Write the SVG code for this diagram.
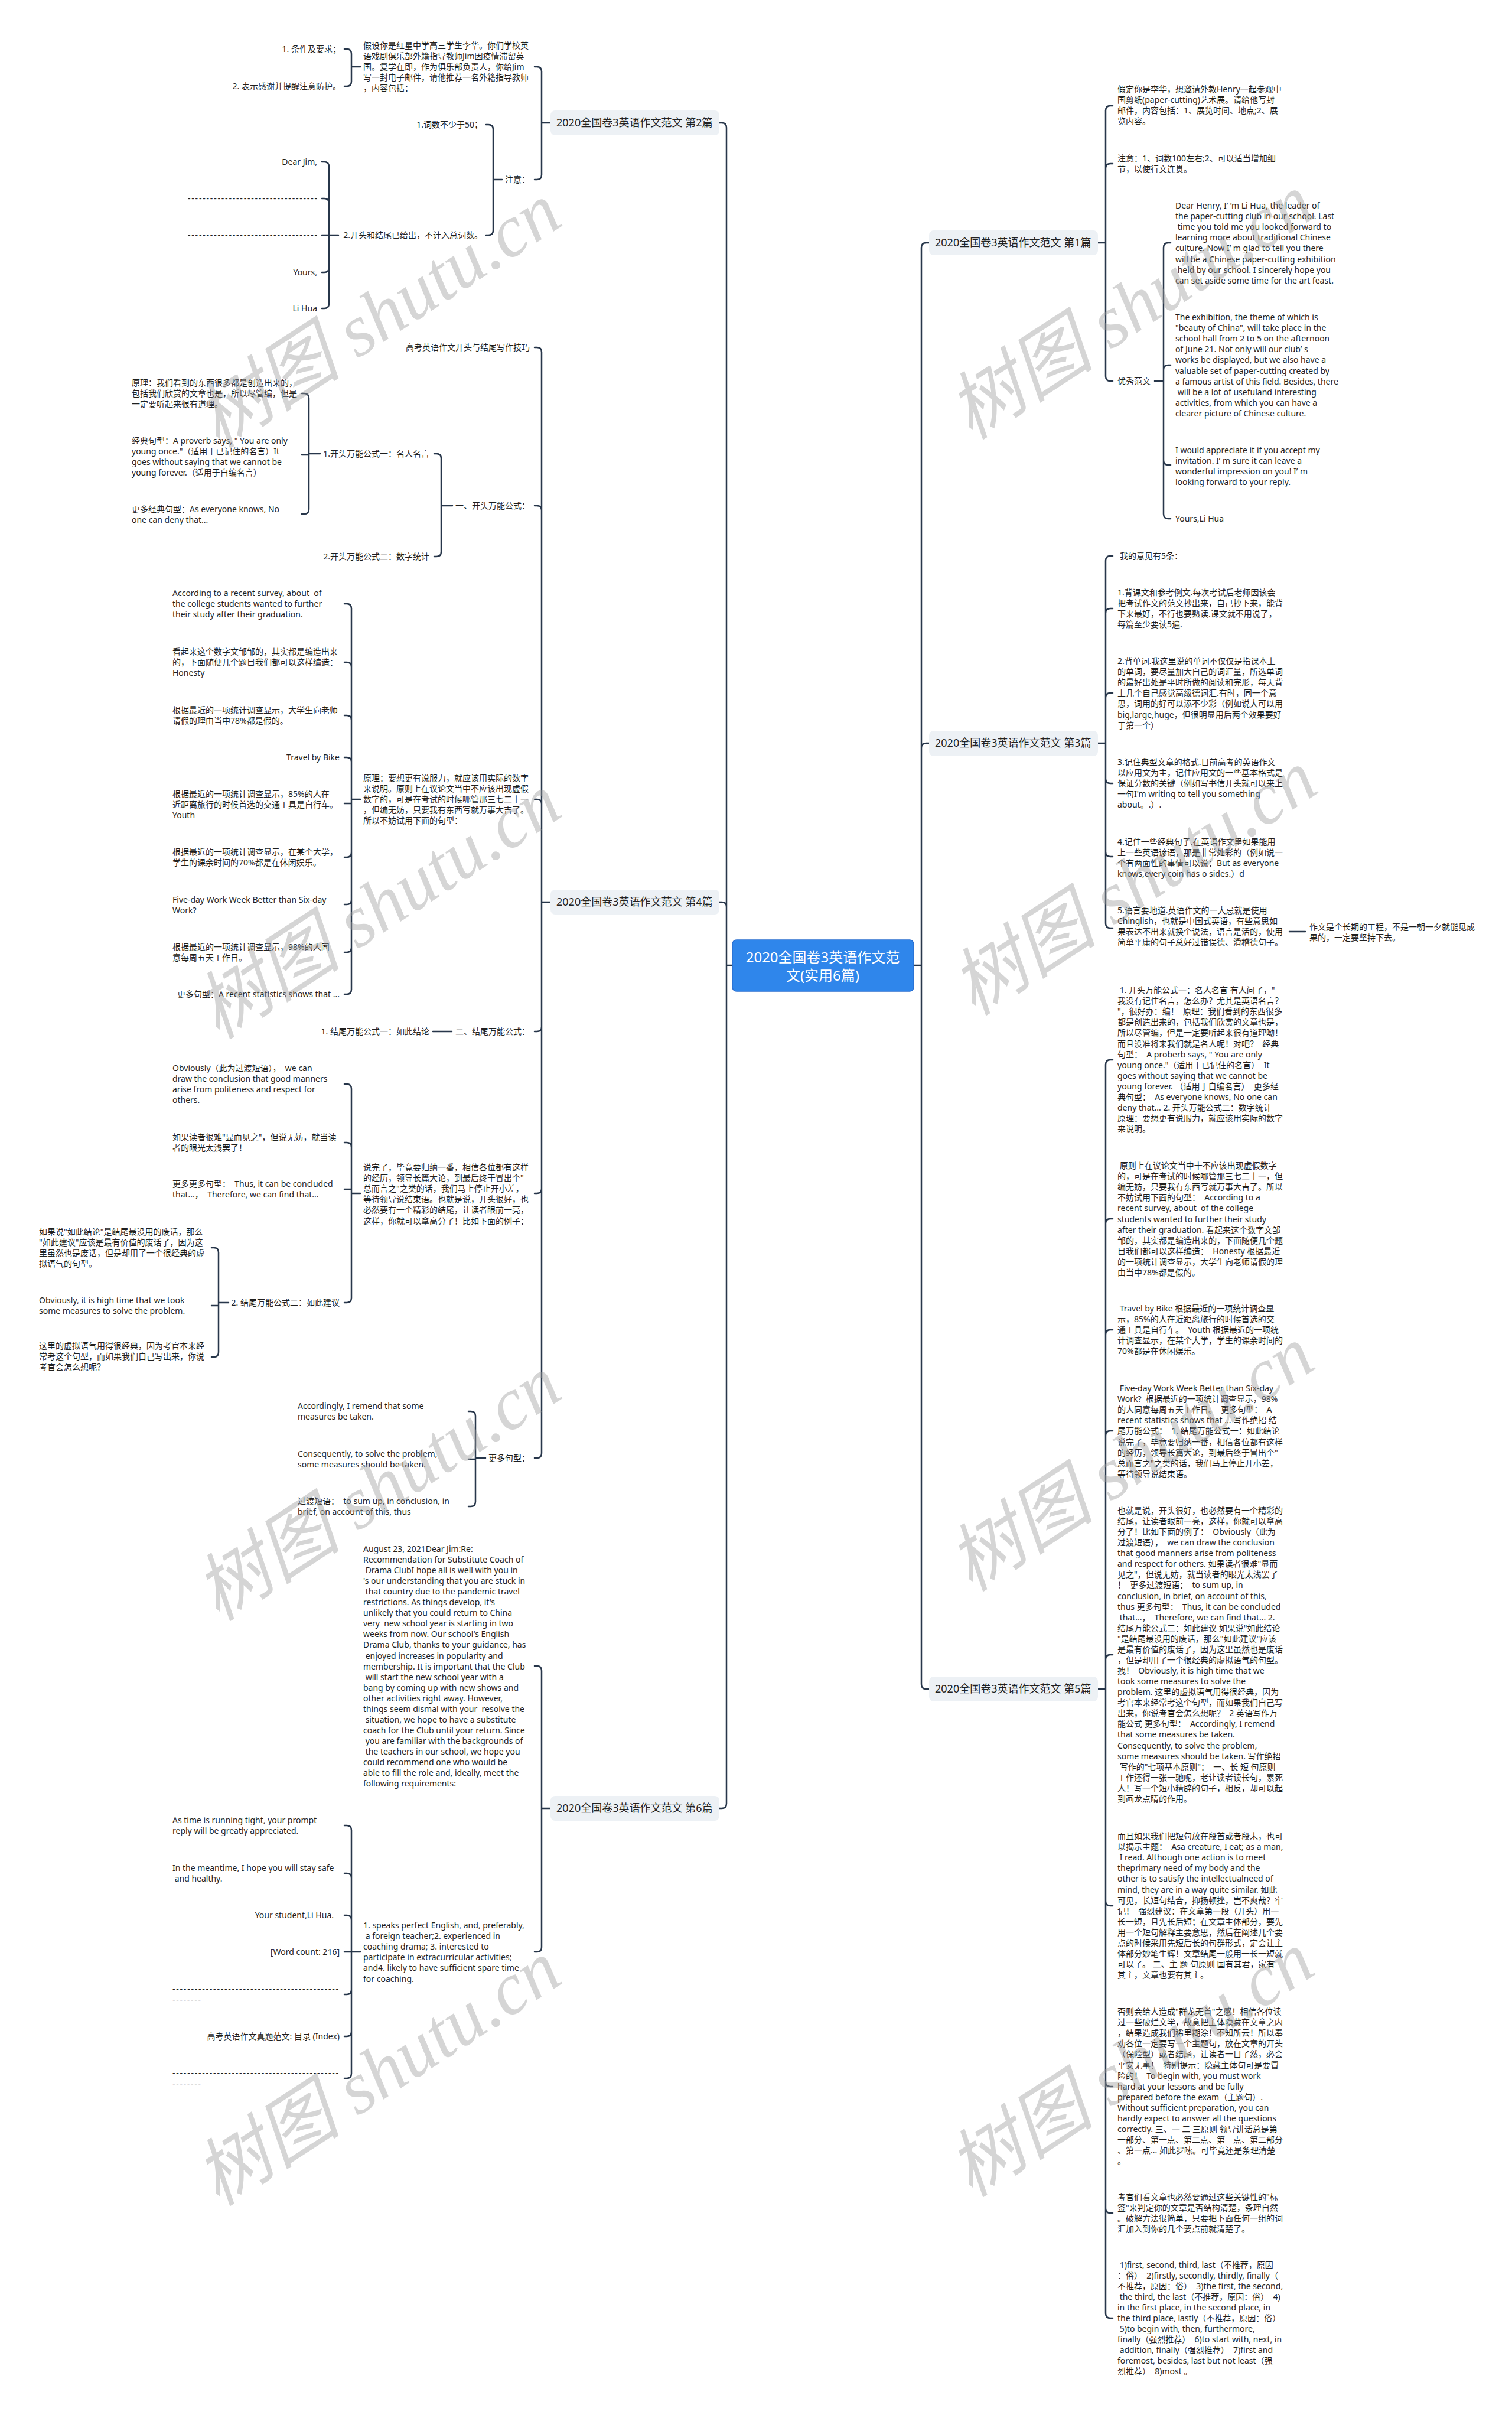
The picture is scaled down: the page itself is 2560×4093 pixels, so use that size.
<svg xmlns="http://www.w3.org/2000/svg" width="2560" height="4093" viewBox="0 0 2560 4093">
<style>
.t{font-family:"Noto Sans","Noto Sans CJK SC",sans-serif;font-size:14px;fill:#1f1f1f;white-space:pre}
.e{text-anchor:end}
.h{font-family:"Noto Sans","Noto Sans CJK SC",sans-serif;font-size:18px;fill:#222;white-space:pre}
.box{fill:#edf1f5}
.root{fill:#2f86eb;stroke:#2a6fd0;stroke-width:1.5}
.rt{font-family:"Noto Sans","Noto Sans CJK SC",sans-serif;font-size:24px;fill:#fff;text-anchor:middle}
.c{fill:none;stroke:#27364a;stroke-width:2.5;stroke-linecap:round;stroke-linejoin:round}
.wm{font-family:"Liberation Serif","Noto Sans CJK SC",serif;font-style:italic;font-size:125px;fill:#9a9a9a;fill-opacity:0.42;text-anchor:middle}
</style>
<rect width="2560" height="4093" fill="#fff"/>
<g id="connectors" class="c">
<path d="M1240,1634H1230M1230,1634V216Q1230,208 1222,208H1218M1230,1634V1535Q1230,1527 1222,1527H1218M1230,1634V3053Q1230,3061 1222,3061H1218"/>
<path d="M1547,1634H1560M1560,1634V419Q1560,411 1568,411H1573M1560,1634V1266Q1560,1258 1568,1258H1573M1560,1634V2851Q1560,2859 1568,2859H1573"/>
<path d="M932,208H917M917,208V121Q917,113 909,113H905M917,208V296Q917,304 909,304H905"/>
<path d="M610,113H595M595,113V91Q595,83 587,83H583M595,113V138Q595,146 587,146H583"/>
<path d="M850,304H835M835,304V219Q835,211 827,211H823M835,304V390Q835,398 827,398H823"/>
<path d="M573,398H557M557,398V282Q557,274 549,274H545M557,398V344Q557,336 549,336H545M557,398H545M557,398V453Q557,461 549,461H545M557,398V514Q557,522 549,522H545"/>
<path d="M932,1527H917M917,1527V596Q917,588 909,588H905M917,1527V864Q917,856 909,856H905M917,1527V1361Q917,1353 909,1353H905M917,1527V1738Q917,1746 909,1746H905M917,1527V2012Q917,2020 909,2020H905M917,1527V2460Q917,2468 909,2468H905"/>
<path d="M766,856H747M747,856V776Q747,768 739,768H735M747,856V934Q747,942 739,942H735"/>
<path d="M542,768H523M523,768V674Q523,666 515,666H511M523,770H511M523,768V862Q523,870 515,870H511"/>
<path d="M610,1353H595M595,1353V1030Q595,1022 587,1022H583M595,1353V1129Q595,1121 587,1121H583M595,1353V1219Q595,1211 587,1211H583M595,1353V1290Q595,1282 587,1282H583M595,1360H583M595,1353V1443Q595,1451 587,1451H583M595,1353V1523Q595,1531 587,1531H583M595,1353V1604Q595,1612 587,1612H583M595,1353V1675Q595,1683 587,1683H583"/>
<path d="M733,1746H765"/>
<path d="M610,2020H595M595,2020V1843Q595,1835 587,1835H583M595,2020V1942Q595,1934 587,1934H583M595,2013H583M595,2020V2197Q595,2205 587,2205H583"/>
<path d="M387,2205H370M370,2205V2120Q370,2112 362,2112H358M370,2210H358M370,2205V2289Q370,2297 362,2297H358"/>
<path d="M822,2468H805M805,2468V2397Q805,2389 797,2389H793M805,2470H793M805,2468V2542Q805,2550 797,2550H793"/>
<path d="M932,3061H917M917,3061V2828Q917,2820 909,2820H905M917,3061V3296Q917,3304 909,3304H905"/>
<path d="M610,3304H595M595,3304V3098Q595,3090 587,3090H583M595,3304V3179Q595,3171 587,3171H583M595,3304V3250Q595,3242 587,3242H583M595,3304H583M595,3304V3368Q595,3376 587,3376H583M595,3304V3439Q595,3447 587,3447H583M595,3304V3510Q595,3518 587,3518H583"/>
<path d="M1859,411H1872M1872,411V187Q1872,179 1880,179H1884M1872,411V285Q1872,277 1880,277H1884M1872,411V637Q1872,645 1880,645H1884"/>
<path d="M1955,645H1970M1970,645V419Q1970,411 1978,411H1982M1970,645V626Q1970,618 1978,618H1982M1970,645V779Q1970,787 1978,787H1982M1970,645V870Q1970,878 1978,878H1982"/>
<path d="M1859,1258H1872M1872,1258V949Q1872,941 1880,941H1884M1872,1258V1038Q1872,1030 1880,1030H1884M1872,1258V1181Q1872,1173 1880,1173H1884M1872,1258V1318Q1872,1326 1880,1326H1884M1872,1258V1442Q1872,1450 1880,1450H1884M1872,1258V1563Q1872,1571 1880,1571H1884"/>
<path d="M2183,1577H2210"/>
<path d="M1859,2859H1872M1872,2859V1802Q1872,1794 1880,1794H1884M1872,2859V2071Q1872,2063 1880,2063H1884M1872,2859V2259Q1872,2251 1880,2251H1884M1872,2859V2430Q1872,2422 1880,2422H1884M1872,2859V2809Q1872,2801 1880,2801H1884M1872,2859V3218Q1872,3226 1880,3226H1884M1872,2859V3524Q1872,3532 1880,3532H1884M1872,2859V3738Q1872,3746 1880,3746H1884M1872,2859V3916Q1872,3924 1880,3924H1884"/>
</g>

<g id="root">
<rect class="root" x="1240" y="1591" width="307" height="87" rx="7"/>
<text class="rt" x="1393" y="1629">2020全国卷3英语作文范</text>
<text class="rt" x="1393" y="1660">文(实用6篇)</text>
</g>

<g id="n2">
<rect class="box" x="932" y="187" width="286" height="42" rx="8"/>
<text class="h" x="942" y="214">2020全国卷3英语作文范文 第2篇</text>
</g>
<g id="n2-a">
<text class="t" x="615" y="82"><tspan x="615">假设你是红星中学高三学生李华。你们学校英</tspan><tspan x="615" dy="18.1">语戏剧俱乐部外籍指导教师Jim因疫情滞留英</tspan><tspan x="615" dy="18.1">国。复学在即，作为俱乐部负责人，你给Jim</tspan><tspan x="615" dy="18.1">写一封电子邮件，请他推荐一名外籍指导教师</tspan><tspan x="615" dy="18.1">，内容包括：</tspan></text>
</g>
<g id="n2-a1"><text class="t e" x="577" y="88">1. 条件及要求；</text></g>
<g id="n2-a2"><text class="t e" x="577" y="151">2. 表示感谢并提醒注意防护。</text></g>
<g id="n2-b"><text class="t e" x="897" y="309">注意：</text></g>
<g id="n2-b1"><text class="t e" x="817" y="216">1.词数不少于50；</text></g>
<g id="n2-b2"><text class="t e" x="817" y="403">2.开头和结尾已给出，不计入总词数。</text></g>
<g id="n2-b2a"><text class="t e" x="537" y="279">Dear Jim,</text></g>
<g id="n2-b2b"><text class="t e" x="537" y="341" textLength="219" lengthAdjust="spacing">-----------------------------------</text></g>
<g id="n2-b2c"><text class="t e" x="537" y="403" textLength="219" lengthAdjust="spacing">-----------------------------------</text></g>
<g id="n2-b2d"><text class="t e" x="537" y="466">Yours,</text></g>
<g id="n2-b2e"><text class="t e" x="537" y="527">Li Hua</text></g>

<g id="n4">
<rect class="box" x="932" y="1506" width="286" height="42" rx="8"/>
<text class="h" x="942" y="1533">2020全国卷3英语作文范文 第4篇</text>
</g>
<g id="n4-a"><text class="t e" x="897" y="593">高考英语作文开头与结尾写作技巧</text></g>
<g id="n4-b"><text class="t e" x="897" y="861">一、开头万能公式：</text></g>
<g id="n4-b1"><text class="t e" x="727" y="773">1.开头万能公式一：名人名言</text></g>
<g id="n4-b2"><text class="t e" x="727" y="947">2.开头万能公式二：数字统计</text></g>
<g id="n4-b1a"><text class="t" x="223" y="653"><tspan x="223">原理：我们看到的东西很多都是创造出来的，</tspan><tspan x="223" dy="18.1">包括我们欣赏的文章也是，所以尽管编，但是</tspan><tspan x="223" dy="18.1">一定要听起来很有道理。</tspan></text></g>
<g id="n4-b1b"><text class="t" x="223" y="751"><tspan x="223">经典句型：A proverb says, " You are only</tspan><tspan x="223" dy="18.1">young once."（适用于已记住的名言）It</tspan><tspan x="223" dy="18.1">goes without saying that we cannot be</tspan><tspan x="223" dy="18.1">young forever.（适用于自编名言）</tspan></text></g>
<g id="n4-b1c"><text class="t" x="223" y="867"><tspan x="223">更多经典句型：As everyone knows, No</tspan><tspan x="223" dy="18.1">one can deny that...</tspan></text></g>
<g id="n4-c"><text class="t" x="615" y="1322"><tspan x="615">原理：要想更有说服力，就应该用实际的数字</tspan><tspan x="615" dy="18.1">来说明。原则上在议论文当中不应该出现虚假</tspan><tspan x="615" dy="18.1">数字的，可是在考试的时候哪管那三七二十一</tspan><tspan x="615" dy="18.1">，但编无妨，只要我有东西写就万事大吉了。</tspan><tspan x="615" dy="18.1">所以不妨试用下面的句型：</tspan></text></g>
<g id="n4-c1"><text class="t" x="292" y="1009"><tspan x="292">According to a recent survey, about  of</tspan><tspan x="292" dy="18.1">the college students wanted to further</tspan><tspan x="292" dy="18.1">their study after their graduation.</tspan></text></g>
<g id="n4-c2"><text class="t" x="292" y="1108"><tspan x="292">看起来这个数字文邹邹的，其实都是编造出来</tspan><tspan x="292" dy="18.1">的，下面随便几个题目我们都可以这样编造：</tspan><tspan x="292" dy="18.1">Honesty</tspan></text></g>
<g id="n4-c3"><text class="t" x="292" y="1207"><tspan x="292">根据最近的一项统计调查显示，大学生向老师</tspan><tspan x="292" dy="18.1">请假的理由当中78%都是假的。</tspan></text></g>
<g id="n4-c4"><text class="t e" x="575" y="1287">Travel by Bike</text></g>
<g id="n4-c5"><text class="t" x="292" y="1349"><tspan x="292">根据最近的一项统计调查显示，85%的人在</tspan><tspan x="292" dy="18.1">近距离旅行的时候首选的交通工具是自行车。</tspan><tspan x="292" dy="18.1">Youth</tspan></text></g>
<g id="n4-c6"><text class="t" x="292" y="1447"><tspan x="292">根据最近的一项统计调查显示，在某个大学，</tspan><tspan x="292" dy="18.1">学生的课余时间的70%都是在休闲娱乐。</tspan></text></g>
<g id="n4-c7"><text class="t" x="292" y="1528"><tspan x="292">Five-day Work Week Better than Six-day</tspan><tspan x="292" dy="18.1">Work?</tspan></text></g>
<g id="n4-c8"><text class="t" x="292" y="1608"><tspan x="292">根据最近的一项统计调查显示，98%的人同</tspan><tspan x="292" dy="18.1">意每周五天工作日。</tspan></text></g>
<g id="n4-c9"><text class="t e" x="575" y="1688">更多句型：A recent statistics shows that ...</text></g>
<g id="n4-d"><text class="t e" x="897" y="1751">二、结尾万能公式：</text></g>
<g id="n4-d1"><text class="t e" x="727" y="1751">1. 结尾万能公式一：如此结论</text></g>
<g id="n4-e"><text class="t" x="615" y="1981"><tspan x="615">说完了，毕竟要归纳一番，相信各位都有这样</tspan><tspan x="615" dy="18.1">的经历，领导长篇大论，到最后终于冒出个"</tspan><tspan x="615" dy="18.1">总而言之"之类的话，我们马上停止开小差，</tspan><tspan x="615" dy="18.1">等待领导说结束语。也就是说，开头很好，也</tspan><tspan x="615" dy="18.1">必然要有一个精彩的结尾，让读者眼前一亮，</tspan><tspan x="615" dy="18.1">这样，你就可以拿高分了！比如下面的例子：</tspan></text></g>
<g id="n4-e1"><text class="t" x="292" y="1813"><tspan x="292">Obviously（此为过渡短语），  we can</tspan><tspan x="292" dy="18.1">draw the conclusion that good manners</tspan><tspan x="292" dy="18.1">arise from politeness and respect for</tspan><tspan x="292" dy="18.1">others.</tspan></text></g>
<g id="n4-e2"><text class="t" x="292" y="1930"><tspan x="292">如果读者很难"显而见之"，但说无妨，就当读</tspan><tspan x="292" dy="18.1">者的眼光太浅罢了！</tspan></text></g>
<g id="n4-e3"><text class="t" x="292" y="2009"><tspan x="292">更多更多句型：  Thus, it can be concluded</tspan><tspan x="292" dy="18.1">that...，  Therefore, we can find that...</tspan></text></g>
<g id="n4-e4"><text class="t e" x="575" y="2210">2. 结尾万能公式二：如此建议</text></g>
<g id="n4-e4a"><text class="t" x="66" y="2090"><tspan x="66">如果说"如此结论"是结尾最没用的废话，那么</tspan><tspan x="66" dy="18.1">"如此建议"应该是最有价值的废话了，因为这</tspan><tspan x="66" dy="18.1">里虽然也是废话，但是却用了一个很经典的虚</tspan><tspan x="66" dy="18.1">拟语气的句型。</tspan></text></g>
<g id="n4-e4b"><text class="t" x="66" y="2206"><tspan x="66">Obviously, it is high time that we took</tspan><tspan x="66" dy="18.1">some measures to solve the problem.</tspan></text></g>
<g id="n4-e4c"><text class="t" x="66" y="2283"><tspan x="66">这里的虚拟语气用得很经典，因为考官本来经</tspan><tspan x="66" dy="18.1">常考这个句型，而如果我们自己写出来，你说</tspan><tspan x="66" dy="18.1">考官会怎么想呢？</tspan></text></g>
<g id="n4-f"><text class="t e" x="897" y="2473">更多句型：</text></g>
<g id="n4-f1"><text class="t" x="504" y="2385"><tspan x="504">Accordingly, I remend that some</tspan><tspan x="504" dy="18.1">measures be taken.</tspan></text></g>
<g id="n4-f2"><text class="t" x="504" y="2466"><tspan x="504">Consequently, to solve the problem,</tspan><tspan x="504" dy="18.1">some measures should be taken.</tspan></text></g>
<g id="n4-f3"><text class="t" x="504" y="2546"><tspan x="504">过渡短语：  to sum up, in conclusion, in</tspan><tspan x="504" dy="18.1">brief, on account of this, thus</tspan></text></g>

<g id="n6">
<rect class="box" x="932" y="3040" width="286" height="42" rx="8"/>
<text class="h" x="942" y="3067">2020全国卷3英语作文范文 第6篇</text>
</g>
<g id="n6-a"><text class="t" x="615" y="2627"><tspan x="615">August 23, 2021Dear Jim:Re:</tspan><tspan x="615" dy="18.05">Recommendation for Substitute Coach of</tspan><tspan x="615" dy="18.05"> Drama ClubI hope all is well with you in</tspan><tspan x="615" dy="18.05">'s our understanding that you are stuck in</tspan><tspan x="615" dy="18.05"> that country due to the pandemic travel</tspan><tspan x="615" dy="18.05">restrictions. As things develop, it's</tspan><tspan x="615" dy="18.05">unlikely that you could return to China</tspan><tspan x="615" dy="18.05">very  new school year is starting in two</tspan><tspan x="615" dy="18.05">weeks from now. Our school's English</tspan><tspan x="615" dy="18.05">Drama Club, thanks to your guidance, has</tspan><tspan x="615" dy="18.05"> enjoyed increases in popularity and</tspan><tspan x="615" dy="18.05">membership. It is important that the Club</tspan><tspan x="615" dy="18.05"> will start the new school year with a</tspan><tspan x="615" dy="18.05">bang by coming up with new shows and</tspan><tspan x="615" dy="18.05">other activities right away. However,</tspan><tspan x="615" dy="18.05">things seem dismal with your  resolve the</tspan><tspan x="615" dy="18.05"> situation, we hope to have a substitute</tspan><tspan x="615" dy="18.05">coach for the Club until your return. Since</tspan><tspan x="615" dy="18.05"> you are familiar with the backgrounds of</tspan><tspan x="615" dy="18.05"> the teachers in our school, we hope you</tspan><tspan x="615" dy="18.05">could recommend one who would be</tspan><tspan x="615" dy="18.05">able to fill the role and, ideally, meet the</tspan><tspan x="615" dy="18.05">following requirements:</tspan></text></g>
<g id="n6-b"><text class="t" x="615" y="3264"><tspan x="615">1. speaks perfect English, and, preferably,</tspan><tspan x="615" dy="18.1"> a foreign teacher;2. experienced in</tspan><tspan x="615" dy="18.1">coaching drama; 3. interested to</tspan><tspan x="615" dy="18.1">participate in extracurricular activities;</tspan><tspan x="615" dy="18.1">and4. likely to have sufficient spare time</tspan><tspan x="615" dy="18.1">for coaching.</tspan></text></g>
<g id="n6-b1"><text class="t" x="292" y="3086"><tspan x="292">As time is running tight, your prompt</tspan><tspan x="292" dy="18.1">reply will be greatly appreciated.</tspan></text></g>
<g id="n6-b2"><text class="t" x="292" y="3167"><tspan x="292">In the meantime, I hope you will stay safe</tspan><tspan x="292" dy="18.1"> and healthy.</tspan></text></g>
<g id="n6-b3"><text class="t e" x="565" y="3247">Your student,Li Hua.</text></g>
<g id="n6-b4"><text class="t e" x="575" y="3309">[Word count: 216]</text></g>
<g id="n6-b5"><text class="t" x="292" y="3372"><tspan x="292" textLength="281" lengthAdjust="spacing">---------------------------------------------</tspan><tspan x="292" dy="18.1" textLength="48" lengthAdjust="spacing">--------</tspan></text></g>
<g id="n6-b6"><text class="t e" x="575" y="3452">高考英语作文真题范文: 目录 (Index)</text></g>
<g id="n6-b7"><text class="t" x="292" y="3514"><tspan x="292" textLength="281" lengthAdjust="spacing">---------------------------------------------</tspan><tspan x="292" dy="18.1" textLength="48" lengthAdjust="spacing">--------</tspan></text></g>

<g id="n1">
<rect class="box" x="1573" y="390" width="286" height="42" rx="8"/>
<text class="h" x="1583" y="417">2020全国卷3英语作文范文 第1篇</text>
</g>
<g id="n1-a"><text class="t" x="1892" y="156"><tspan x="1892">假定你是李华，想邀请外教Henry一起参观中</tspan><tspan x="1892" dy="18.1">国剪纸(paper-cutting)艺术展。请给他写封</tspan><tspan x="1892" dy="18.1">邮件，内容包括：1、展览时间、地点;2、展</tspan><tspan x="1892" dy="18.1">览内容。</tspan></text></g>
<g id="n1-b"><text class="t" x="1892" y="273"><tspan x="1892">注意：1、词数100左右;2、可以适当增加细</tspan><tspan x="1892" dy="18.1">节，以使行文连贯。</tspan></text></g>
<g id="n1-c"><text class="t" x="1892" y="650">优秀范文</text></g>
<g id="n1-c1"><text class="t" x="1990" y="353"><tspan x="1990">Dear Henry, I’ ’m Li Hua, the leader of</tspan><tspan x="1990" dy="18.1">the paper-cutting club in our school. Last</tspan><tspan x="1990" dy="18.1"> time you told me you looked forward to</tspan><tspan x="1990" dy="18.1">learning more about traditional Chinese</tspan><tspan x="1990" dy="18.1">culture. Now I’ m glad to tell you there</tspan><tspan x="1990" dy="18.1">will be a Chinese paper-cutting exhibition</tspan><tspan x="1990" dy="18.1"> held by our school. I sincerely hope you</tspan><tspan x="1990" dy="18.1">can set aside some time for the art feast.</tspan></text></g>
<g id="n1-c2"><text class="t" x="1990" y="542"><tspan x="1990">The exhibition, the theme of which is</tspan><tspan x="1990" dy="18.1">"beauty of China", will take place in the</tspan><tspan x="1990" dy="18.1">school hall from 2 to 5 on the afternoon</tspan><tspan x="1990" dy="18.1">of June 21. Not only will our club’ s</tspan><tspan x="1990" dy="18.1">works be displayed, but we also have a</tspan><tspan x="1990" dy="18.1">valuable set of paper-cutting created by</tspan><tspan x="1990" dy="18.1">a famous artist of this field. Besides, there</tspan><tspan x="1990" dy="18.1"> will be a lot of usefuland interesting</tspan><tspan x="1990" dy="18.1">activities, from which you can have a</tspan><tspan x="1990" dy="18.1">clearer picture of Chinese culture.</tspan></text></g>
<g id="n1-c3"><text class="t" x="1990" y="767"><tspan x="1990">I would appreciate it if you accept my</tspan><tspan x="1990" dy="18.1">invitation. I’ m sure it can leave a</tspan><tspan x="1990" dy="18.1">wonderful impression on you! I’ m</tspan><tspan x="1990" dy="18.1">looking forward to your reply.</tspan></text></g>
<g id="n1-c4"><text class="t" x="1990" y="883">Yours,Li Hua</text></g>

<g id="n3">
<rect class="box" x="1573" y="1237" width="286" height="43" rx="8"/>
<text class="h" x="1583" y="1264">2020全国卷3英语作文范文 第3篇</text>
</g>
<g id="n3-a"><text class="t" x="1896" y="946">我的意见有5条：</text></g>
<g id="n3-b"><text class="t" x="1892" y="1008"><tspan x="1892">1.背课文和参考例文.每次考试后老师因该会</tspan><tspan x="1892" dy="18.1">把考试作文的范文抄出来，自己抄下来，能背</tspan><tspan x="1892" dy="18.1">下来最好，不行也要熟读.课文就不用说了，</tspan><tspan x="1892" dy="18.1">每篇至少要读5遍.</tspan></text></g>
<g id="n3-c"><text class="t" x="1892" y="1124"><tspan x="1892">2.背单词.我这里说的单词不仅仅是指课本上</tspan><tspan x="1892" dy="18.1">的单词，要尽量加大自己的词汇量，所选单词</tspan><tspan x="1892" dy="18.1">的最好出处是平时所做的阅读和完形，每天背</tspan><tspan x="1892" dy="18.1">上几个自己感觉高级德词汇.有时，同一个意</tspan><tspan x="1892" dy="18.1">思，词用的好可以添不少彩（例如说大可以用</tspan><tspan x="1892" dy="18.1">big,large,huge，但很明显用后两个效果要好</tspan><tspan x="1892" dy="18.1">于第一个）</tspan></text></g>
<g id="n3-d"><text class="t" x="1892" y="1295"><tspan x="1892">3.记住典型文章的格式.目前高考的英语作文</tspan><tspan x="1892" dy="18.1">以应用文为主，记住应用文的一些基本格式是</tspan><tspan x="1892" dy="18.1">保证分数的关键（例如写书信开头就可以来上</tspan><tspan x="1892" dy="18.1">一句I'm writing to tell you something</tspan><tspan x="1892" dy="18.1">about。.）.</tspan></text></g>
<g id="n3-e"><text class="t" x="1892" y="1430"><tspan x="1892">4.记住一些经典句子.在英语作文里如果能用</tspan><tspan x="1892" dy="18.1">上一些英语谚语，那是非常处彩的（例如说一</tspan><tspan x="1892" dy="18.1">个有两面性的事情可以说：But as everyone</tspan><tspan x="1892" dy="18.1">knows,every coin has o sides.）d</tspan></text></g>
<g id="n3-f"><text class="t" x="1892" y="1546"><tspan x="1892">5.语言要地道.英语作文的一大忌就是使用</tspan><tspan x="1892" dy="18.1">Chinglish，也就是中国式英语，有些意思如</tspan><tspan x="1892" dy="18.1">果表达不出来就换个说法，语言是活的，使用</tspan><tspan x="1892" dy="18.1">简单平庸的句子总好过错误德、滑稽德句子。</tspan></text></g>
<g id="n3-f1"><text class="t" x="2217" y="1574"><tspan x="2217">作文是个长期的工程，不是一朝一夕就能见成</tspan><tspan x="2217" dy="18.1">果的，一定要坚持下去。</tspan></text></g>

<g id="n5">
<rect class="box" x="1573" y="2838" width="286" height="42" rx="8"/>
<text class="h" x="1583" y="2865">2020全国卷3英语作文范文 第5篇</text>
</g>
<g id="n5-a"><text class="t" x="1892" y="1681"><tspan x="1892"> 1. 开头万能公式一：名人名言 有人问了，"</tspan><tspan x="1892" dy="18.1">我没有记住名言，怎么办？尤其是英语名言？</tspan><tspan x="1892" dy="18.1">"，很好办：编！  原理：我们看到的东西很多</tspan><tspan x="1892" dy="18.1">都是创造出来的，包括我们欣赏的文章也是，</tspan><tspan x="1892" dy="18.1">所以尽管编，但是一定要听起来很有道理呦！</tspan><tspan x="1892" dy="18.1">而且没准将来我们就是名人呢！对吧？  经典</tspan><tspan x="1892" dy="18.1">句型：  A proberb says, " You are only</tspan><tspan x="1892" dy="18.1">young once."（适用于已记住的名言）  It</tspan><tspan x="1892" dy="18.1">goes without saying that we cannot be</tspan><tspan x="1892" dy="18.1">young forever. （适用于自编名言）  更多经</tspan><tspan x="1892" dy="18.1">典句型：  As everyone knows, No one can</tspan><tspan x="1892" dy="18.1">deny that... 2. 开头万能公式二：数字统计</tspan><tspan x="1892" dy="18.1">原理：要想更有说服力，就应该用实际的数字</tspan><tspan x="1892" dy="18.1">来说明。</tspan></text></g>
<g id="n5-b"><text class="t" x="1892" y="1978"><tspan x="1892"> 原则上在议论文当中十不应该出现虚假数字</tspan><tspan x="1892" dy="18.1">的，可是在考试的时候哪管那三七二十一，但</tspan><tspan x="1892" dy="18.1">编无妨，只要我有东西写就万事大吉了。所以</tspan><tspan x="1892" dy="18.1">不妨试用下面的句型：  According to a</tspan><tspan x="1892" dy="18.1">recent survey, about  of the college</tspan><tspan x="1892" dy="18.1">students wanted to further their study</tspan><tspan x="1892" dy="18.1">after their graduation. 看起来这个数字文邹</tspan><tspan x="1892" dy="18.1">邹的，其实都是编造出来的，下面随便几个题</tspan><tspan x="1892" dy="18.1">目我们都可以这样编造：  Honesty 根据最近</tspan><tspan x="1892" dy="18.1">的一项统计调查显示，大学生向老师请假的理</tspan><tspan x="1892" dy="18.1">由当中78%都是假的。</tspan></text></g>
<g id="n5-c"><text class="t" x="1892" y="2220"><tspan x="1892"> Travel by Bike 根据最近的一项统计调查显</tspan><tspan x="1892" dy="18.1">示，85%的人在近距离旅行的时候首选的交</tspan><tspan x="1892" dy="18.1">通工具是自行车。  Youth 根据最近的一项统</tspan><tspan x="1892" dy="18.1">计调查显示，在某个大学，学生的课余时间的</tspan><tspan x="1892" dy="18.1">70%都是在休闲娱乐。</tspan></text></g>
<g id="n5-d"><text class="t" x="1892" y="2355"><tspan x="1892"> Five-day Work Week Better than Six-day</tspan><tspan x="1892" dy="18.1">Work?  根据最近的一项统计调查显示，98%</tspan><tspan x="1892" dy="18.1">的人同意每周五天工作日。  更多句型：  A</tspan><tspan x="1892" dy="18.1">recent statistics shows that ... 写作绝招 结</tspan><tspan x="1892" dy="18.1">尾万能公式：  1. 结尾万能公式一：如此结论</tspan><tspan x="1892" dy="18.1">说完了，毕竟要归纳一番，相信各位都有这样</tspan><tspan x="1892" dy="18.1">的经历，领导长篇大论，到最后终于冒出个"</tspan><tspan x="1892" dy="18.1">总而言之"之类的话，我们马上停止开小差，</tspan><tspan x="1892" dy="18.1">等待领导说结束语。</tspan></text></g>
<g id="n5-e"><text class="t" x="1892" y="2562"><tspan x="1892">也就是说，开头很好，也必然要有一个精彩的</tspan><tspan x="1892" dy="18.07">结尾，让读者眼前一亮，这样，你就可以拿高</tspan><tspan x="1892" dy="18.07">分了！比如下面的例子：  Obviously（此为</tspan><tspan x="1892" dy="18.07">过渡短语），  we can draw the conclusion</tspan><tspan x="1892" dy="18.07">that good manners arise from politeness</tspan><tspan x="1892" dy="18.07">and respect for others. 如果读者很难"显而</tspan><tspan x="1892" dy="18.07">见之"，但说无妨，就当读者的眼光太浅罢了</tspan><tspan x="1892" dy="18.07">！  更多过渡短语：  to sum up, in</tspan><tspan x="1892" dy="18.07">conclusion, in brief, on account of this,</tspan><tspan x="1892" dy="18.07">thus 更多句型：  Thus, it can be concluded</tspan><tspan x="1892" dy="18.07"> that...，  Therefore, we can find that... 2.</tspan><tspan x="1892" dy="18.07">结尾万能公式二：如此建议 如果说"如此结论</tspan><tspan x="1892" dy="18.07">"是结尾最没用的废话，那么"如此建议"应该</tspan><tspan x="1892" dy="18.07">是最有价值的废话了，因为这里虽然也是废话</tspan><tspan x="1892" dy="18.07">，但是却用了一个很经典的虚拟语气的句型。</tspan><tspan x="1892" dy="18.07">拽！  Obviously, it is high time that we</tspan><tspan x="1892" dy="18.07">took some measures to solve the</tspan><tspan x="1892" dy="18.07">problem. 这里的虚拟语气用得很经典，因为</tspan><tspan x="1892" dy="18.07">考官本来经常考这个句型，而如果我们自己写</tspan><tspan x="1892" dy="18.07">出来，你说考官会怎么想呢？  2 英语写作万</tspan><tspan x="1892" dy="18.07">能公式 更多句型：  Accordingly, I remend</tspan><tspan x="1892" dy="18.07">that some measures be taken.</tspan><tspan x="1892" dy="18.07">Consequently, to solve the problem,</tspan><tspan x="1892" dy="18.07">some measures should be taken. 写作绝招</tspan><tspan x="1892" dy="18.07"> 写作的"七项基本原则"：  一、长 短 句原则</tspan><tspan x="1892" dy="18.07">工作还得一张一驰呢，老让读者读长句，累死</tspan><tspan x="1892" dy="18.07">人！写一个短小精辟的句子，相反，却可以起</tspan><tspan x="1892" dy="18.07">到画龙点睛的作用。</tspan></text></g>
<g id="n5-f"><text class="t" x="1892" y="3113"><tspan x="1892">而且如果我们把短句放在段首或者段末，也可</tspan><tspan x="1892" dy="18.1">以揭示主题：  Asa creature, I eat; as a man,</tspan><tspan x="1892" dy="18.1"> I read. Although one action is to meet</tspan><tspan x="1892" dy="18.1">theprimary need of my body and the</tspan><tspan x="1892" dy="18.1">other is to satisfy the intellectualneed of</tspan><tspan x="1892" dy="18.1">mind, they are in a way quite similar. 如此</tspan><tspan x="1892" dy="18.1">可见，长短句结合，抑扬顿挫，岂不爽哉？牢</tspan><tspan x="1892" dy="18.1">记！  强烈建议：在文章第一段（开头）用一</tspan><tspan x="1892" dy="18.1">长一短，且先长后短；在文章主体部分，要先</tspan><tspan x="1892" dy="18.1">用一个短句解释主要意思，然后在阐述几个要</tspan><tspan x="1892" dy="18.1">点的时候采用先短后长的句群形式，定会让主</tspan><tspan x="1892" dy="18.1">体部分妙笔生辉！文章结尾一般用一长一短就</tspan><tspan x="1892" dy="18.1">可以了。 二、主 题 句原则 国有其君，家有</tspan><tspan x="1892" dy="18.1">其主，文章也要有其主。</tspan></text></g>
<g id="n5-g"><text class="t" x="1892" y="3410"><tspan x="1892">否则会给人造成"群龙无首"之感！相信各位读</tspan><tspan x="1892" dy="18.1">过一些破烂文学，故意把主体隐藏在文章之内</tspan><tspan x="1892" dy="18.1">，结果造成我们稀里糊涂！不知所云！所以奉</tspan><tspan x="1892" dy="18.1">劝各位一定要写一个主题句，放在文章的开头</tspan><tspan x="1892" dy="18.1">（保险型）或者结尾，让读者一目了然，必会</tspan><tspan x="1892" dy="18.1">平安无事！  特别提示：隐藏主体句可是要冒</tspan><tspan x="1892" dy="18.1">险的！  To begin with, you must work</tspan><tspan x="1892" dy="18.1">hard at your lessons and be fully</tspan><tspan x="1892" dy="18.1">prepared before the exam（主题句）.</tspan><tspan x="1892" dy="18.1">Without sufficient preparation, you can</tspan><tspan x="1892" dy="18.1">hardly expect to answer all the questions</tspan><tspan x="1892" dy="18.1">correctly. 三、一 二 三原则 领导讲话总是第</tspan><tspan x="1892" dy="18.1">一部分、第一点、第二点、第三点、第二部分</tspan><tspan x="1892" dy="18.1">、第一点... 如此罗嗦。可毕竟还是条理清楚</tspan><tspan x="1892" dy="18.1">。</tspan></text></g>
<g id="n5-h"><text class="t" x="1892" y="3724"><tspan x="1892">考官们看文章也必然要通过这些关键性的"标</tspan><tspan x="1892" dy="18.1">签"来判定你的文章是否结构清楚，条理自然</tspan><tspan x="1892" dy="18.1">。破解方法很简单，只要把下面任何一组的词</tspan><tspan x="1892" dy="18.1">汇加入到你的几个要点前就清楚了。</tspan></text></g>
<g id="n5-i"><text class="t" x="1892" y="3839"><tspan x="1892"> 1)first, second, third, last（不推荐，原因</tspan><tspan x="1892" dy="18">：俗）  2)firstly, secondly, thirdly, finally（</tspan><tspan x="1892" dy="18">不推荐，原因：俗）  3)the first, the second,</tspan><tspan x="1892" dy="18"> the third, the last（不推荐，原因：俗）  4)</tspan><tspan x="1892" dy="18">in the first place, in the second place, in</tspan><tspan x="1892" dy="18">the third place, lastly（不推荐，原因：俗）</tspan><tspan x="1892" dy="18"> 5)to begin with, then, furthermore,</tspan><tspan x="1892" dy="18">finally（强烈推荐）  6)to start with, next, in</tspan><tspan x="1892" dy="18"> addition, finally（强烈推荐）  7)first and</tspan><tspan x="1892" dy="18">foremost, besides, last but not least（强</tspan><tspan x="1892" dy="18">烈推荐）  8)most 。</tspan></text></g>

<g id="watermark">
<text class="wm" transform="translate(663,570) rotate(-33)">树图 shutu.cn</text>
<text class="wm" transform="translate(663,1570) rotate(-33)">树图 shutu.cn</text>
<text class="wm" transform="translate(663,2555) rotate(-33)">树图 shutu.cn</text>
<text class="wm" transform="translate(663,3545) rotate(-33)">树图 shutu.cn</text>
<text class="wm" transform="translate(1938,555) rotate(-33)">树图 shutu.cn</text>
<text class="wm" transform="translate(1943,1530) rotate(-33)">树图 shutu.cn</text>
<text class="wm" transform="translate(1938,2505) rotate(-33)">树图 shutu.cn</text>
<text class="wm" transform="translate(1938,3530) rotate(-33)">树图 shutu.cn</text>
</g>
</svg>
